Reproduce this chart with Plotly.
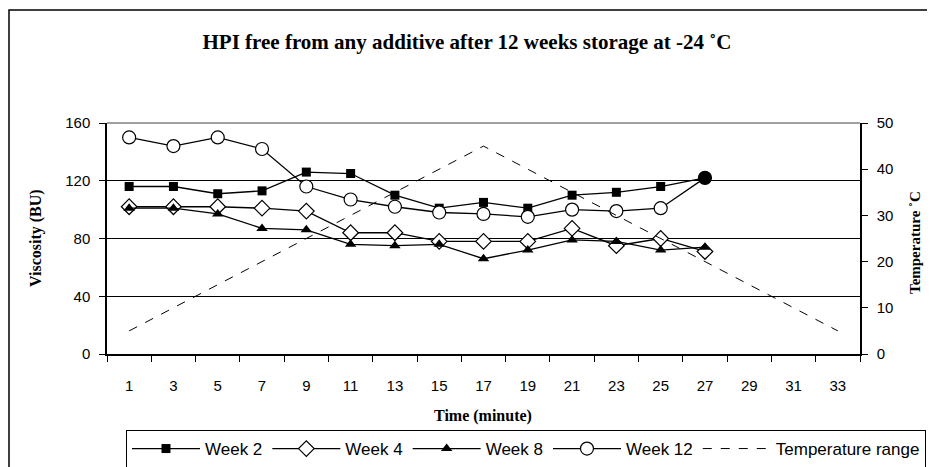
import plotly.graph_objects as go

time_labels = ["1", "3", "5", "7", "9", "11", "13", "15", "17", "19", "21", "23", "25", "27", "29", "31", "33"]
week2 = [116, 116, 111, 113, 126, 125, 110, 101, 105, 101, 110, 112, 116, 122]
week4 = [102, 102, 102, 101, 99, 84, 84, 78, 78, 78, 87, 75, 80, 71]
week8 = [101, 101, 97, 87, 86, 76, 75, 76, 66, 72, 79, 78, 72, 74]
week12 = [150, 144, 150, 142, 116, 107, 102, 98, 97, 95, 100, 99, 101, 122]
temperature = [5, 10, 15, 20, 25, 30, 35, 40, 45, 40, 35, 30, 25, 20, 15, 10, 5]

SANS = "Liberation Sans, Arial, sans-serif"
SERIF = "Liberation Serif, Times New Roman, serif"

# the page body adds an 8px offset; lay the figure out in page pixels
OFF = 8
W, H = 935 - OFF, 467 - OFF
L, T = 107 - OFF, 123 - OFF
R, B = W - (860 - OFF), H - (354 - OFF)
PW, PH = W - L - R, H - T - B


def px_x(x):
    return (x - OFF - L) / PW


def px_y(y):
    return (H - B - (y - OFF)) / PH


fig = go.Figure()
n = len(week2)
fig.add_trace(go.Scatter(x=time_labels[:n], y=week2, name="Week 2", mode="lines+markers",
                         line=dict(color="black", width=1.3),
                         marker=dict(symbol="square", size=9, color="black")))
fig.add_trace(go.Scatter(x=time_labels[:n], y=week4, name="Week 4", mode="lines+markers",
                         line=dict(color="black", width=1.3),
                         marker=dict(symbol="diamond", size=12, color="white",
                                     line=dict(color="black", width=1.2))))
fig.add_trace(go.Scatter(x=time_labels[:n], y=week8, name="Week 8", mode="lines+markers",
                         line=dict(color="black", width=1.3),
                         marker=dict(symbol="triangle-up", size=10, color="black")))
w12_fill = ["white"] * (n - 1) + ["black"]
fig.add_trace(go.Scatter(x=time_labels[:n], y=week12, name="Week 12", mode="lines+markers",
                         line=dict(color="black", width=1.3),
                         marker=dict(symbol="circle", size=13, color=w12_fill,
                                     line=dict(color="black", width=1.2))))
fig.add_trace(go.Scatter(x=time_labels, y=temperature, name="Temperature range", mode="lines",
                         yaxis="y2", line=dict(color="black", width=1, dash="dash")))

fig.update_layout(
    width=W, height=H,
    margin=dict(l=L, r=R, t=T, b=B, autoexpand=False),
    paper_bgcolor="white", plot_bgcolor="white",
    showlegend=True,
    title=dict(text="<b>HPI free from any additive after 12 weeks storage at -24 ˚C</b>",
               x=px_x(467), xanchor="center", xref="paper",
               y=1 - (42 - OFF) / H, yanchor="middle",
               font=dict(family=SERIF, size=21, color="black")),
    xaxis=dict(type="category", categoryorder="array", categoryarray=time_labels,
               range=[-0.5, 16.5], tickson="boundaries", ticks="outside", ticklen=6,
               tickcolor="black", showline=True, linecolor="black", linewidth=1.5,
               showgrid=False, zeroline=False, ticklabelstandoff=17, automargin=False,
               tickfont=dict(family=SANS, size=15, color="black")),
    yaxis=dict(range=[0, 160], dtick=40, ticks="outside", ticklen=6, tickcolor="black",
               showline=True, linecolor="black", linewidth=1.5,
               showgrid=True, gridcolor="black", gridwidth=1, zeroline=False,
               ticklabelstandoff=6, automargin=False,
               tickfont=dict(family=SANS, size=15, color="black")),
    yaxis2=dict(range=[0, 50], dtick=10, overlaying="y", side="right",
                ticks="outside", ticklen=6, tickcolor="black",
                showline=True, linecolor="black", linewidth=1.5,
                showgrid=False, zeroline=False, ticklabelstandoff=6, automargin=False,
                tickfont=dict(family=SANS, size=15, color="black")),
    legend=dict(orientation="h", x=px_x(926), y=px_y(430), xanchor="right", yanchor="top",
                bordercolor="black", borderwidth=1, bgcolor="white",
                font=dict(family=SANS, size=17, color="black"),
                itemwidth=68, tracegroupgap=0),
    annotations=[
        dict(text="<b>Viscosity (BU)</b>", xref="paper", yref="paper",
             x=px_x(36), y=px_y(238), textangle=-90, showarrow=False,
             xanchor="center", yanchor="middle",
             font=dict(family=SERIF, size=16, color="black")),
        dict(text="<b>Temperature ˚C</b>", xref="paper", yref="paper",
             x=px_x(915), y=px_y(243), textangle=-90, showarrow=False,
             xanchor="center", yanchor="middle",
             font=dict(family=SERIF, size=15, color="black")),
        dict(text="<b>Time (minute)</b>", xref="paper", yref="paper",
             x=px_x(483), y=px_y(416), showarrow=False,
             xanchor="center", yanchor="middle",
             font=dict(family=SERIF, size=16, color="black")),
    ],
    shapes=[
        dict(type="rect", xref="paper", yref="paper", x0=px_x(9), x1=px_x(932),
             y0=px_y(480), y1=px_y(10), line=dict(color="black", width=1.5), layer="below"),
        dict(type="line", xref="paper", yref="paper", x0=0, x1=1, y0=1, y1=1,
             line=dict(color="#808080", width=1.5)),
    ],
)

fig.write_html("out.html")
